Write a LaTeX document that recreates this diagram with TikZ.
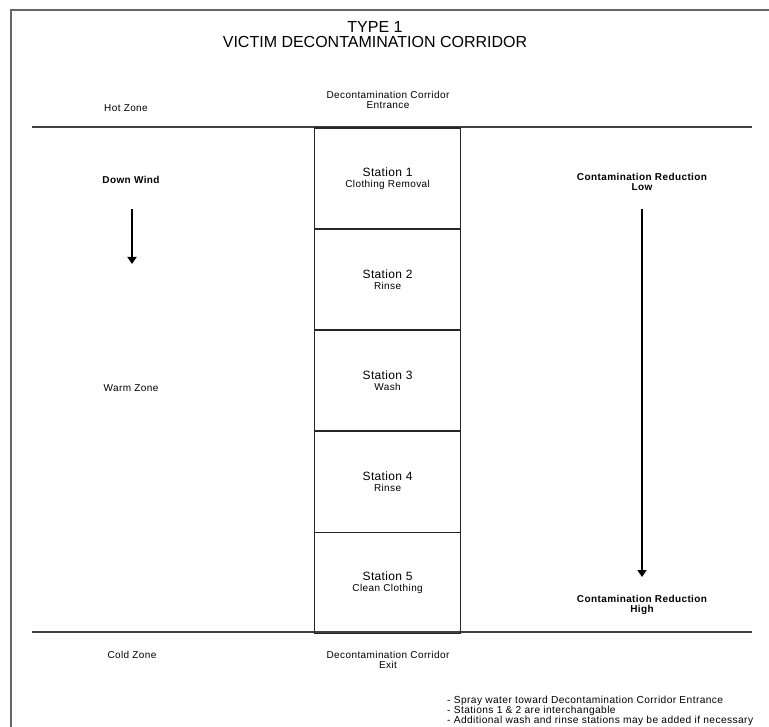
\documentclass[tikz,border=0pt]{standalone}
\usepackage{fontspec}
\setmainfont{Liberation Sans}
\usetikzlibrary{arrows.meta}
\begin{document}
\begin{tikzpicture}[x=1pt,y=-1pt,
  lbl/.style={font=\fontsize{10}{10}\selectfont\addfontfeature{LetterSpace=4}, inner sep=0pt, align=center},
  blbl/.style={font=\fontsize{10}{10}\selectfont\bfseries\addfontfeature{LetterSpace=4}, inner sep=0pt, align=center},
  ttl/.style={font=\fontsize{16}{15}\selectfont, inner sep=0pt, align=center},
  note/.style={font=\fontsize{10.2}{10}\selectfont\addfontfeature{LetterSpace=4}, inner sep=0pt, align=left, anchor=west},
  stationbox/.style={draw=black!85, line width=1.2pt, minimum width=146pt, minimum height=101pt, inner sep=0pt, anchor=north west,
    font=\fontsize{10}{11.5}\selectfont\addfontfeature{LetterSpace=4}, align=center},
  frameline/.style={draw=black!60, line width=1.6pt},
  zoneline/.style={draw=black!75, line width=1.3pt},
  bigarrow/.style={line width=2pt, -{Triangle[width=9pt,length=7pt]}}
]
\useasboundingbox (0,0) rectangle (769,727);
% outer frame (top and left)
\coordinate (fTL) at (11,10);
\coordinate (fTR) at (769,10);
\coordinate (fBL) at (11,727);
\draw[frameline] (fTR) -- (fTL) -- (fBL);
% title
\node[ttl] (title) at (375,35) {TYPE 1\\VICTIM DECONTAMINATION CORRIDOR};
% zone boundaries
\coordinate (hl1) at (32,127);
\coordinate (hr1) at (752,127);
\coordinate (hl2) at (32,632);
\coordinate (hr2) at (752,632);
\draw[zoneline] (hl1) -- (hr1);
\draw[zoneline] (hl2) -- (hr2);
% stations
\newcommand{\stn}[2]{{\fontsize{12}{11.5}\selectfont\addfontfeature{LetterSpace=3}Station #1}\\#2}
\node[stationbox] (s1) at (314,127.5) {\stn{1}{Clothing Removal}};
\node[stationbox] (s2) at (314,228.5) {\stn{2}{Rinse}};
\node[stationbox] (s3) at (314,329.5) {\stn{3}{Wash}};
\node[stationbox] (s4) at (314,430.5) {\stn{4}{Rinse}};
\node[stationbox] (s5) at (314,531.5) {\stn{5}{Clean Clothing}};
% labels
\node[lbl] (hot) at (126,108) {Hot Zone};
\node[lbl] (entr) at (388,100) {Decontamination Corridor\\Entrance};
\node[blbl] (dw) at (131,180) {Down Wind};
\node[lbl] (warm) at (131,388) {Warm Zone};
\node[lbl] (cold) at (132,655) {Cold Zone};
\node[lbl] (exit) at (388,660) {Decontamination Corridor\\Exit};
\node[blbl] (crl) at (642,182) {Contamination Reduction\\Low};
\node[blbl] (crh) at (642,604.5) {Contamination Reduction\\High};
% arrows
\coordinate (dwa) at (132,209);
\coordinate (dwb) at (132,264);
\draw[bigarrow] (dwa) -- (dwb);
\coordinate (cra) at (642,209);
\coordinate (crb) at (642,577);
\draw[bigarrow] (cra) -- (crb);
% notes
\node[note] (notes) at (447,711) {- Spray water toward Decontamination Corridor Entrance\\- Stations 1 \& 2 are interchangable\\- Additional wash and rinse stations may be added if necessary};
\end{tikzpicture}
\end{document}
